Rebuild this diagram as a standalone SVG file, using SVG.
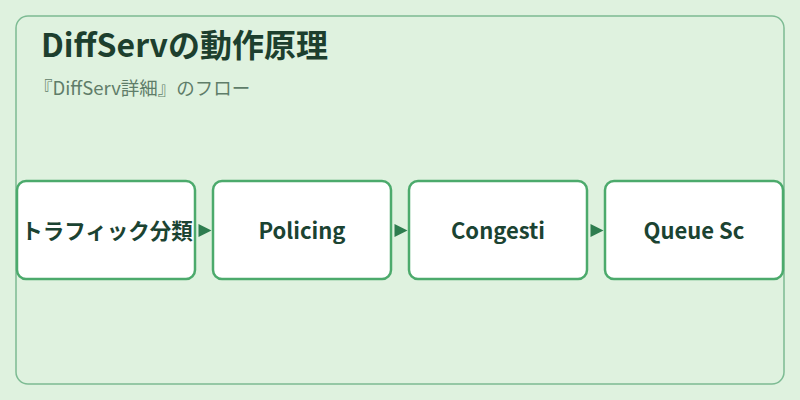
<svg xmlns="http://www.w3.org/2000/svg" width="800" height="400" viewBox="0 0 800 400">
<defs>
<style>
.node rect{fill:#ffffff;stroke:#4caa6c;stroke-width:2.5}
.node text{font-family:"Noto Sans CJK JP","Noto Sans",sans-serif;font-weight:bold;font-size:22px;fill:#1b4332;text-anchor:middle}
.arrowhead{fill:#2e7d4f}
</style>
</defs>
<rect x="0" y="0" width="800" height="400" fill="#dff2df"/>
<rect x="16" y="16" width="768" height="368" rx="12" fill="#dff2df" stroke="#7dbb93" stroke-width="1.5"/>
<text x="41" y="56.5" font-family="Noto Sans CJK JP,Noto Sans,sans-serif" font-weight="bold" font-size="32" fill="#1d3f2e">DiffServの動作原理</text>
<text x="34" y="95" font-family="Noto Sans CJK JP,Noto Sans,sans-serif" font-size="18.5" fill="#5f7d69">『DiffServ詳細』のフロー</text>
<g id="connectors">
<path class="arrowhead" d="M198.5,224 L211.5,230.5 L198.5,237 Z"/>
<path class="arrowhead" d="M394.5,224 L407.5,230.5 L394.5,237 Z"/>
<path class="arrowhead" d="M590.5,224 L603.5,230.5 L590.5,237 Z"/>
</g>
<g id="n1" class="node"><rect x="17" y="181" width="178" height="98" rx="9"/><text x="107" y="239" style="font-size:21.5px">トラフィック分類</text></g>
<g id="n2" class="node"><rect x="213" y="181" width="178" height="98" rx="9"/><text x="302" y="239">Policing</text></g>
<g id="n3" class="node"><rect x="409" y="181" width="178" height="98" rx="9"/><text x="498" y="239">Congesti</text></g>
<g id="n4" class="node"><rect x="605" y="181" width="178" height="98" rx="9"/><text x="694" y="239">Queue Sc</text></g>
</svg>
